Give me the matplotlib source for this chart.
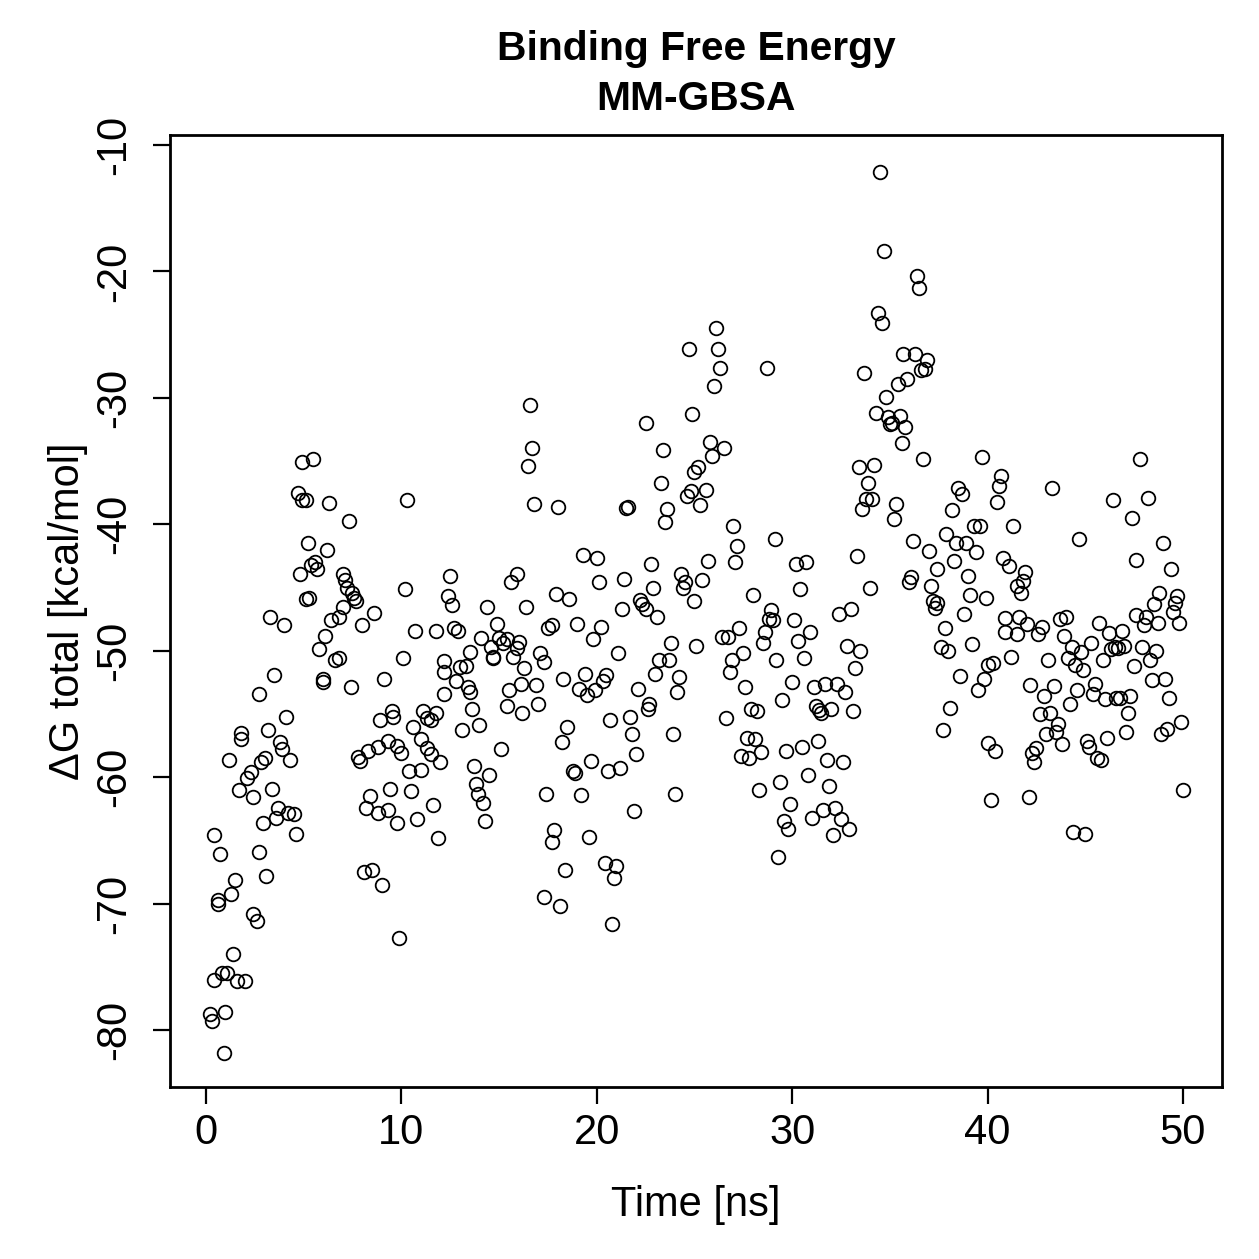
import matplotlib
matplotlib.use("Agg")
import matplotlib.pyplot as plt

plt.rcParams['font.family'] = ['Liberation Sans', 'DejaVu Sans']

# time [ns] and binding free energy [kcal/mol]
time_ns = [
    0.2, 0.3, 0.4, 0.4, 0.6, 0.6, 0.7, 0.8, 0.9, 1.0, 1.1, 1.2, 1.3, 1.4, 1.5, 1.6,
    1.7, 1.8, 1.8, 2.0, 2.1, 2.3, 2.4, 2.4, 2.6, 2.7, 2.7, 2.8, 2.9, 3.0, 3.1, 3.2,
    3.3, 3.4, 3.5, 3.6, 3.7, 3.8, 3.9, 4.0, 4.1, 4.2, 4.3, 4.5, 4.6, 4.7, 4.8, 4.9,
    4.9, 5.1, 5.1, 5.2, 5.3, 5.4, 5.5, 5.6, 5.7, 5.8, 6.0, 6.0, 6.1, 6.2, 6.3, 6.4,
    6.6, 6.8, 6.8, 7.0, 7.0, 7.1, 7.2, 7.3, 7.4, 7.5, 7.6, 7.7, 7.8, 7.9, 8.0, 8.1,
    8.2, 8.3, 8.4, 8.5, 8.6, 8.8, 8.8, 8.9, 9.0, 9.1, 9.3, 9.3, 9.4, 9.5, 9.6, 9.8,
    9.8, 9.9, 10.0, 10.1, 10.2, 10.3, 10.4, 10.5, 10.6, 10.7, 10.8, 11.0, 11.0, 11.1,
    11.3, 11.3, 11.5, 11.5, 11.6, 11.8, 11.8, 11.9, 12.0, 12.2, 12.2, 12.2, 12.4,
    12.5, 12.6, 12.7, 12.8, 12.9, 13.0, 13.1, 13.3, 13.4, 13.5, 13.5, 13.6, 13.7,
    13.8, 13.9, 14.0, 14.1, 14.2, 14.3, 14.4, 14.5, 14.6, 14.7, 14.7, 14.9, 15.0,
    15.1, 15.2, 15.4, 15.4, 15.5, 15.6, 15.7, 15.9, 15.9, 16.0, 16.1, 16.2, 16.3,
    16.4, 16.5, 16.6, 16.7, 16.8, 16.9, 17.0, 17.1, 17.3, 17.3, 17.4, 17.5, 17.7,
    17.7, 17.8, 17.9, 18.0, 18.1, 18.2, 18.3, 18.4, 18.5, 18.6, 18.8, 18.9, 19.0,
    19.1, 19.2, 19.3, 19.4, 19.5, 19.6, 19.7, 19.8, 19.9, 20.0, 20.1, 20.2, 20.3,
    20.4, 20.5, 20.6, 20.7, 20.8, 20.9, 21.0, 21.1, 21.2, 21.3, 21.4, 21.5, 21.6,
    21.7, 21.8, 21.9, 22.0, 22.1, 22.2, 22.3, 22.5, 22.5, 22.6, 22.7, 22.8, 22.9,
    23.0, 23.1, 23.2, 23.3, 23.4, 23.5, 23.6, 23.7, 23.8, 23.9, 24.0, 24.1, 24.2,
    24.3, 24.4, 24.5, 24.6, 24.7, 24.8, 24.9, 25.0, 25.0, 25.1, 25.2, 25.3, 25.4,
    25.6, 25.7, 25.8, 25.9, 26.0, 26.1, 26.2, 26.3, 26.4, 26.5, 26.6, 26.7, 26.8,
    26.9, 27.0, 27.1, 27.2, 27.3, 27.4, 27.5, 27.6, 27.7, 27.8, 27.9, 28.0, 28.1,
    28.2, 28.3, 28.4, 28.5, 28.6, 28.7, 28.8, 28.9, 29.0, 29.1, 29.2, 29.3, 29.4,
    29.5, 29.6, 29.7, 29.8, 29.9, 30.0, 30.1, 30.2, 30.3, 30.4, 30.5, 30.6, 30.7,
    30.8, 30.9, 31.0, 31.1, 31.2, 31.3, 31.4, 31.5, 31.6, 31.7, 31.8, 31.9, 32.0,
    32.1, 32.2, 32.3, 32.4, 32.5, 32.6, 32.7, 32.8, 32.9, 33.0, 33.1, 33.2, 33.3,
    33.4, 33.5, 33.6, 33.7, 33.8, 33.9, 34.0, 34.1, 34.2, 34.3, 34.4, 34.5, 34.6,
    34.7, 34.8, 34.9, 35.0, 35.1, 35.2, 35.3, 35.4, 35.5, 35.6, 35.7, 35.8, 35.9,
    36.0, 36.1, 36.2, 36.3, 36.4, 36.5, 36.6, 36.7, 36.8, 36.9, 37.0, 37.1, 37.2,
    37.3, 37.4, 37.4, 37.6, 37.7, 37.8, 37.9, 38.0, 38.1, 38.2, 38.3, 38.4, 38.5,
    38.6, 38.7, 38.8, 38.9, 39.0, 39.1, 39.2, 39.3, 39.4, 39.5, 39.6, 39.7, 39.8,
    39.9, 40.0, 40.0, 40.2, 40.3, 40.4, 40.5, 40.6, 40.7, 40.8, 40.9, 40.9, 41.1,
    41.2, 41.3, 41.5, 41.5, 41.6, 41.7, 41.8, 41.9, 42.0, 42.1, 42.2, 42.3, 42.4,
    42.5, 42.6, 42.7, 42.8, 42.9, 43.0, 43.1, 43.2, 43.3, 43.4, 43.5, 43.6, 43.7,
    43.8, 43.9, 44.0, 44.1, 44.2, 44.3, 44.4, 44.5, 44.6, 44.7, 44.8, 44.9, 45.0,
    45.1, 45.2, 45.3, 45.4, 45.5, 45.6, 45.7, 45.8, 45.9, 46.0, 46.1, 46.2, 46.3,
    46.4, 46.5, 46.6, 46.7, 46.8, 46.9, 47.0, 47.1, 47.2, 47.3, 47.4, 47.5, 47.6,
    47.6, 47.8, 47.9, 48.0, 48.1, 48.2, 48.3, 48.4, 48.5, 48.6, 48.7, 48.8, 48.9,
    49.0, 49.1, 49.2, 49.3, 49.4, 49.5, 49.6, 49.7, 49.8, 49.9, 50.0,
]

dg_total = [
    -78.7, -79.3, -76.0, -64.6, -70.0, -69.7, -66.1, -75.5, -81.8, -78.6, -75.5, -58.6, -69.2, -74.0, -68.1, -76.1,
    -61.0, -56.5, -57.0, -76.1, -60.1, -59.6, -70.8, -61.6, -71.4, -65.9, -53.4, -58.8, -63.6, -58.5, -67.8, -56.3,
    -47.3, -60.9, -51.9, -63.2, -62.4, -57.2, -57.8, -48.0, -55.2, -62.8, -58.6, -62.9, -64.5, -37.5, -43.9, -35.1,
    -38.1, -38.1, -45.9, -41.5, -45.8, -43.2, -34.8, -43.0, -43.5, -49.9, -52.5, -52.2, -48.8, -42.0, -38.3, -47.6,
    -50.7, -50.6, -47.3, -46.5, -43.9, -44.4, -45.0, -39.7, -52.9, -45.4, -45.8, -46.1, -58.4, -58.7, -48.0, -67.5,
    -62.4, -57.9, -61.5, -67.3, -47.0, -57.6, -62.8, -55.5, -68.5, -52.2, -57.1, -62.6, -60.9, -54.8, -55.2, -57.5,
    -63.6, -72.7, -58.1, -50.6, -45.1, -38.1, -59.5, -61.1, -56.0, -48.4, -63.3, -57.0, -59.4, -54.8,
    -55.3, -57.7, -55.5, -58.2, -62.2, -54.9, -48.4, -64.8, -58.8, -53.4, -50.8, -51.7, -45.7,
    -44.1, -46.4, -48.2, -52.4, -48.4, -51.3, -56.3, -51.2, -52.9, -53.3, -50.1, -54.6, -59.1,
    -60.5, -61.3, -55.9, -49.0, -62.0, -63.5, -46.5, -59.8, -49.7, -50.5, -50.6, -47.9, -49.0,
    -57.8, -49.4, -49.1, -54.4, -53.1, -44.6, -50.5, -43.9, -49.8, -49.3, -52.6, -54.9, -51.4,
    -46.5, -35.4, -30.6, -34.0, -38.4, -52.7, -54.2, -50.2, -50.9, -69.5, -61.3, -48.2, -48.0,
    -65.1, -64.2, -45.5, -38.6, -70.2, -57.2, -52.2, -67.3, -56.0, -45.9, -59.5, -59.7, -47.9,
    -53.0, -61.4, -42.4, -51.8, -53.5, -64.7, -58.7, -49.1, -53.1, -42.7, -44.6, -48.1, -52.4,
    -66.8, -51.9, -59.5, -55.5, -71.6, -68.0, -67.0, -50.2, -59.3, -46.7, -44.3, -38.7, -38.6,
    -55.2, -56.6, -62.7, -58.2, -53.0, -46.0, -46.3, -46.7, -32.0, -54.6, -54.2, -43.1, -45.0,
    -51.8, -47.3, -50.7, -36.7, -34.1, -39.8, -38.8, -50.7, -49.4, -56.6, -61.3, -53.3, -52.1,
    -43.9, -45.0, -44.6, -37.8, -26.1, -37.4, -31.3, -35.9, -46.1, -49.6, -35.5, -38.5, -44.4,
    -37.3, -42.9, -33.5, -34.6, -29.1, -24.5, -26.1, -27.6, -48.9, -34.0, -55.3, -48.9, -51.7,
    -50.7, -40.1, -43.0, -41.7, -48.2, -58.3, -50.2, -52.9, -56.9, -58.5, -54.6, -45.6, -57.0,
    -54.8, -61.0, -58.0, -49.4, -48.5, -27.6, -47.5, -46.8, -47.6, -41.2, -50.7, -66.3, -60.4,
    -53.9, -63.5, -57.9, -64.1, -62.1, -52.5, -47.6, -43.1, -49.2, -45.1, -57.6, -50.6, -43.0,
    -59.8, -48.5, -63.2, -52.9, -54.4, -57.1, -54.7, -54.9, -62.6, -52.6, -58.6, -60.7, -54.6,
    -64.6, -62.4, -52.6, -47.1, -63.3, -58.8, -53.3, -49.6, -64.1, -46.7, -54.8, -51.4, -42.5,
    -35.5, -50.0, -38.8, -28.0, -38.0, -36.7, -45.0, -38.0, -35.3, -31.2, -23.3, -12.1, -24.1,
    -18.4, -29.9, -31.5, -32.1, -32.0, -39.6, -38.4, -28.9, -31.4, -33.6, -26.5, -32.3, -28.5,
    -44.6, -44.2, -41.3, -26.5, -20.4, -21.3, -27.8, -34.8, -27.7, -27.0, -42.1, -44.9, -46.1,
    -46.6, -43.5, -46.2, -49.7, -56.3, -48.2, -40.8, -50.0, -54.5, -38.9, -42.9, -41.5, -37.1,
    -52.0, -37.6, -47.1, -41.5, -44.1, -45.6, -49.5, -40.1, -42.2, -53.1, -40.1, -34.7, -52.2,
    -45.8, -51.1, -57.3, -61.8, -51.0, -57.9, -38.2, -37.0, -36.2, -42.7, -47.4, -48.5, -43.3,
    -50.5, -40.1, -44.9, -48.7, -47.3, -45.4, -44.5, -43.8, -47.9, -61.6, -52.7, -58.1, -58.8,
    -57.7, -48.7, -55.0, -48.1, -53.6, -56.6, -50.7, -54.9, -37.1, -52.8, -56.4, -55.8, -47.5,
    -57.4, -48.8, -47.3, -50.6, -54.2, -49.7, -64.3, -51.1, -53.1, -41.2, -50.1, -51.5, -64.5,
    -57.1, -57.6, -49.4, -53.4, -52.6, -58.5, -47.8, -58.6, -50.7, -53.8, -56.9, -48.6, -49.9,
    -38.1, -49.7, -53.7, -49.8, -53.7, -48.4, -49.6, -56.4, -54.9, -53.6, -39.5, -51.2, -47.2,
    -42.8, -34.8, -49.7, -48.0, -47.3, -37.9, -50.7, -52.3, -46.3, -50.0, -47.8, -45.4, -56.6,
    -41.5, -52.2, -56.2, -53.7, -43.5, -46.9, -46.2, -45.7, -47.8, -55.6, -61.0,
]

x_ticks = [0, 10, 20, 30, 40, 50]
y_ticks = [-10, -20, -30, -40, -50, -60, -70, -80]

fig = plt.figure(figsize=(6.295, 6.295), dpi=200)
ax = fig.add_axes([0.135, 0.1366, 0.8356, 0.7562])

ax.plot(time_ns, dg_total, 'o', markersize=4.9, markerfacecolor='none',
        markeredgecolor='black', markeredgewidth=0.65, linestyle='none')

# R-style limits (4% padding)
ax.set_xlim(-1.84, 52.0)
ax.set_ylim(-84.5, -9.21)

ax.set_xticks(x_ticks)
ax.set_yticks(y_ticks)
ax.set_yticklabels([str(v) for v in y_ticks], rotation=90, va='center')
ax.tick_params(direction='out', length=6, width=0.8, labelsize=15)
ax.tick_params(axis='x', pad=3.5)
ax.tick_params(axis='y', pad=7)

for sp in ax.spines.values():
    sp.set_linewidth(1.0)

ax.set_xlabel("Time [ns]", fontsize=15, labelpad=11.5)
ax.set_ylabel("ΔG total [kcal/mol]", fontsize=15, labelpad=2)
ax.set_title("Binding Free Energy\nMM-GBSA", fontsize=14.7, fontweight='bold',
             pad=9, linespacing=1.4)

fig.savefig("out.png", dpi=200)
